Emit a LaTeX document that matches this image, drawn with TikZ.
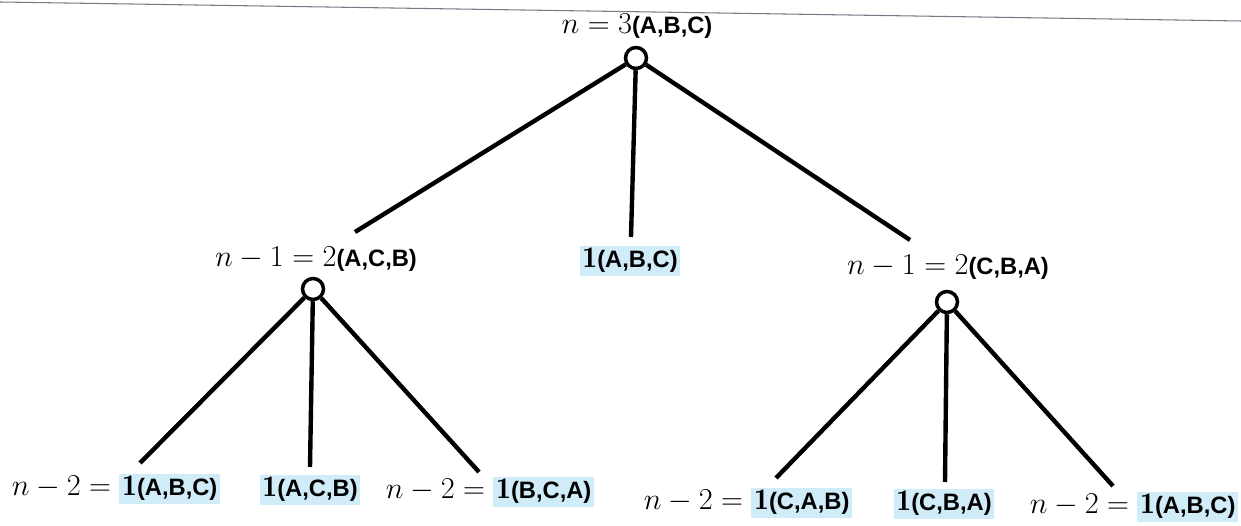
\documentclass[tikz,border=0pt]{standalone}
\usepackage{fontspec}
\setsansfont{Liberation Sans}
\definecolor{hl}{RGB}{208,236,248}
\definecolor{scan}{RGB}{120,120,135}
\newcommand\trip[1]{{\fontsize{13.5}{15}\selectfont\sffamily\bfseries #1}}
\newcommand\hlbox[1]{{\setlength{\fboxsep}{1.5pt}\colorbox{hl}{#1}}}
\tikzset{
  lab/.style={font=\fontsize{17}{20}\selectfont, inner sep=0pt, anchor=base},
  vtx/.style={circle, draw, line width=2pt, minimum size=0.42cm, inner sep=0pt, fill=white},
  edge/.style={line width=2.5pt}
}
\begin{document}
\begin{tikzpicture}[x=0.02cm,y=-0.02cm]
\useasboundingbox (0,0) rectangle (1241,526);
% scan line at top
\draw[scan, line width=0.6pt] (0,2) -- (1241,21);
% vertices
\node[vtx] (r) at (636,58) {};
\node[vtx] (l) at (313,289) {};
\node[vtx] (rr) at (947,302) {};
% labels
\node[lab] (tr) at (637,34) {$n=3$\trip{(A,B,C)}};
\node[lab] (ml) at (316,267) {$n-1=2$\trip{(A,C,B)}};
\node[lab] (mm) at (630,268) {\hlbox{$\mathbf{1}$\trip{(A,B,C)}}};
\node[lab] (mr) at (948,275) {$n-1=2$\trip{(C,B,A)}};
\node[lab] (b1) at (116,496) {$n-2=\;$\hlbox{$\mathbf{1}$\trip{(A,B,C)}}};
\node[lab] (b2) at (310,497) {\hlbox{$\mathbf{1}$\trip{(A,C,B)}}};
\node[lab] (b3) at (490,499) {$n-2=\;$\hlbox{$\mathbf{1}$\trip{(B,C,A)}}};
\node[lab] (b4) at (748,510) {$n-2=\;$\hlbox{$\mathbf{1}$\trip{(C,A,B)}}};
\node[lab] (b5) at (944,511) {\hlbox{$\mathbf{1}$\trip{(C,B,A)}}};
\node[lab] (b6) at (1134,514) {$n-2=\;$\hlbox{$\mathbf{1}$\trip{(A,B,C)}}};
% free ends
\coordinate (e1) at (355,232);
\coordinate (e2) at (631,237);
\coordinate (e3) at (910,240);
\coordinate (f1) at (140,463);
\coordinate (f2) at (310,467);
\coordinate (f3) at (479,472);
\coordinate (g1) at (776,478);
\coordinate (g2) at (945,482);
\coordinate (g3) at (1113,486);
% edges
\draw[edge] (r) -- (e1);
\draw[edge] (r) -- (e2);
\draw[edge] (r) -- (e3);
\draw[edge] (l) -- (f1);
\draw[edge] (l) -- (f2);
\draw[edge] (l) -- (f3);
\draw[edge] (rr) -- (g1);
\draw[edge] (rr) -- (g2);
\draw[edge] (rr) -- (g3);
\end{tikzpicture}
\end{document}
